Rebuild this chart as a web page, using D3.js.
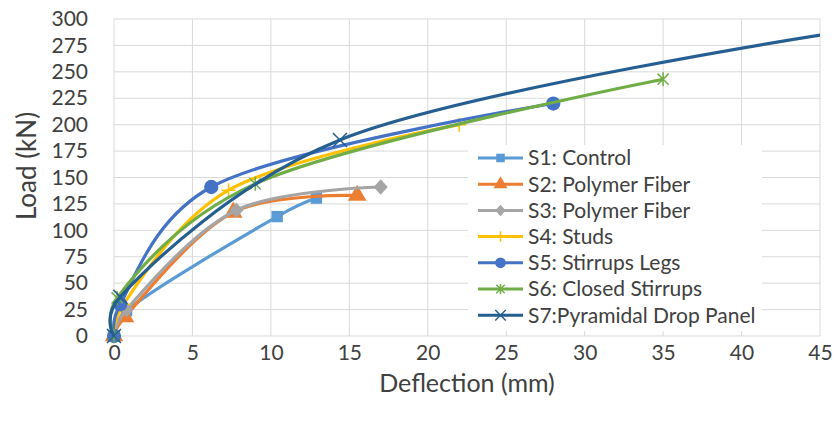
<!DOCTYPE html>
<html>
<head>
<meta charset="utf-8">
<script src="https://cdn.jsdelivr.net/npm/d3@7"></script>
<style>
  body { margin: 0; background: #fff; }
  text { font-family: Lato, "Open Sans", sans-serif; fill: #404040; }
</style>
</head>
<body>
<div id="chart"></div>
<script>
// Series names, colours and data (deflection mm, load kN)
var seriesNames = ["S1: Control", "S2: Polymer Fiber", "S3: Polymer Fiber", "S4: Studs",
  "S5: Stirrups Legs", "S6: Closed Stirrups", "S7:Pyramidal Drop Panel"];
var seriesColors = ["#5B9BD5", "#ED7D31", "#A5A5A5", "#FFC000", "#4472C4", "#70AD47", "#255E91"];
var seriesMarkers = ["square", "triangle", "diamond", "plus", "circle", "star", "cross"];

var s1 = [[0, 0], [0.8, 24], [10.4, 113], [12.9, 130.5]];
var s2 = [[0, 0], [0.7, 18], [7.6, 117], [15.5, 133]];
var s3 = [[0, 0], [0.8, 25], [7.8, 119], [17, 141]];
var s4 = [[0, 0], [0.6, 30], [7.3, 138], [22, 200]];
var s5 = [[0, 0], [0.4, 30], [6.2, 141], [28, 220]];
var s6 = [[0, 0], [0.2, 36], [9, 144], [35, 243]];
var s7 = [[0, 0], [0.4, 37], [14.4, 185.5], [46, 287]];
var seriesData = [s1, s2, s3, s4, s5, s6, s7];

var xTicks = [0, 5, 10, 15, 20, 25, 30, 35, 40, 45];
var yTicks = [0, 25, 50, 75, 100, 125, 150, 175, 200, 225, 250, 275, 300];

// SVG size and plot area
var svgWidth = 836;
var svgHeight = 423;
var plot = { left: 114, right: 820, top: 19, bottom: 336 };

var svg = d3.select("#chart")
  .append("svg")
  .attr("width", svgWidth)
  .attr("height", svgHeight);

var xScale = d3.scaleLinear().domain([0, 45]).range([plot.left, plot.right]);
var yScale = d3.scaleLinear().domain([0, 300]).range([plot.bottom, plot.top]);

// Gridlines
svg.append("g")
  .selectAll("line")
  .data(yTicks)
  .enter()
  .append("line")
  .attr("x1", plot.left).attr("x2", plot.right)
  .attr("y1", d => yScale(d)).attr("y2", d => yScale(d))
  .attr("stroke", "#d9d9d9").attr("stroke-width", 1);

svg.append("g")
  .selectAll("line")
  .data(xTicks)
  .enter()
  .append("line")
  .attr("x1", d => xScale(d)).attr("x2", d => xScale(d))
  .attr("y1", plot.top).attr("y2", plot.bottom)
  .attr("stroke", "#d9d9d9").attr("stroke-width", 1);

// Axes (labels only)
var leftAxis = d3.axisLeft(yScale).tickValues(yTicks).tickSize(0).tickPadding(26);
var bottomAxis = d3.axisBottom(xScale).tickValues(xTicks).tickSize(0).tickPadding(9);

var yAxisG = svg.append("g")
  .attr("transform", `translate(${plot.left},0)`)
  .call(leftAxis);
var xAxisG = svg.append("g")
  .attr("transform", `translate(0,${plot.bottom})`)
  .call(bottomAxis);

[yAxisG, xAxisG].forEach(function(g) {
  g.select(".domain").remove();
  g.selectAll("text")
    .style("font-family", "Lato, 'Open Sans', sans-serif")
    .style("font-size", "21px")
    .attr("fill", "#404040");
});

// Marker shapes
function markerPath(type, s) {
  var r = 7 * s;
  if (type === "square") return d3.symbol(d3.symbolSquare, 130 * s * s)();
  if (type === "triangle") return d3.symbol(d3.symbolTriangle, 150 * s * s)();
  if (type === "diamond") return `M0,${-r * 1.1}L${r},0L0,${r * 1.1}L${-r},0Z`;
  if (type === "circle") return d3.symbol(d3.symbolCircle, 160 * s * s)();
  if (type === "plus") return `M${-r},0H${r}M0,${-r}V${r}`;
  if (type === "star") return `M${-r * 0.8},${-r * 0.8}L${r * 0.8},${r * 0.8}M${-r * 0.8},${r * 0.8}L${r * 0.8},${-r * 0.8}M0,${-r}V${r}`;
  return `M${-r},${-r}L${r},${r}M${-r},${r}L${r},${-r}`;
}
function isStroked(type) {
  return type === "plus" || type === "star" || type === "cross";
}

// Clip region for the plot
svg.append("clipPath")
  .attr("id", "plotClip")
  .append("rect")
  .attr("x", plot.left - 10).attr("y", plot.top)
  .attr("width", plot.right - plot.left + 10).attr("height", plot.bottom - plot.top + 10);

var line = d3.line()
  .x(d => xScale(d[0]))
  .y(d => yScale(d[1]))
  .curve(d3.curveCatmullRom.alpha(0.25));

var seriesG = svg.append("g").attr("clip-path", "url(#plotClip)");

seriesData.forEach(function(data, i) {
  var g = seriesG.append("g");
  g.append("path")
    .datum(data)
    .attr("d", line)
    .attr("fill", "none")
    .attr("stroke", seriesColors[i])
    .attr("stroke-width", 3.2);

  g.selectAll(".marker")
    .data(data)
    .enter()
    .append("path")
    .attr("class", "marker")
    .attr("transform", d => `translate(${xScale(d[0])},${yScale(d[1])})`)
    .attr("d", markerPath(seriesMarkers[i], 1))
    .attr("fill", isStroked(seriesMarkers[i]) ? "none" : seriesColors[i])
    .attr("stroke", seriesColors[i])
    .attr("stroke-width", isStroked(seriesMarkers[i]) ? 1.5 : 0);
});

// Legend
var legend = svg.append("g");
legend.append("rect")
  .attr("x", 468).attr("y", 145)
  .attr("width", 294).attr("height", 186)
  .attr("fill", "#fff");

var legendRows = legend.selectAll(".row")
  .data(seriesNames)
  .enter()
  .append("g")
  .attr("class", "row")
  .attr("transform", (d, i) => `translate(478,${158 + i * 26.2})`);

legendRows.append("line")
  .attr("x1", 0).attr("x2", 45)
  .attr("stroke", (d, i) => seriesColors[i])
  .attr("stroke-width", 3);

legendRows.append("path")
  .attr("transform", "translate(22.5,0)")
  .attr("d", (d, i) => markerPath(seriesMarkers[i], 0.75))
  .attr("fill", (d, i) => isStroked(seriesMarkers[i]) ? "none" : seriesColors[i])
  .attr("stroke", (d, i) => seriesColors[i])
  .attr("stroke-width", (d, i) => isStroked(seriesMarkers[i]) ? 1.5 : 0);

legendRows.append("text")
  .attr("x", 50)
  .attr("dy", "0.35em")
  .style("font-size", "21px")
  .text(d => d);

// Axis titles
svg.append("text")
  .attr("transform", "rotate(-90)")
  .attr("x", -166)
  .attr("y", 36)
  .attr("text-anchor", "middle")
  .style("font-size", "26px")
  .text("Load (kN)");

svg.append("text")
  .attr("x", 467)
  .attr("y", 392)
  .attr("text-anchor", "middle")
  .style("font-size", "25px")
  .text("Deflection (mm)");
</script>
</body>
</html>
